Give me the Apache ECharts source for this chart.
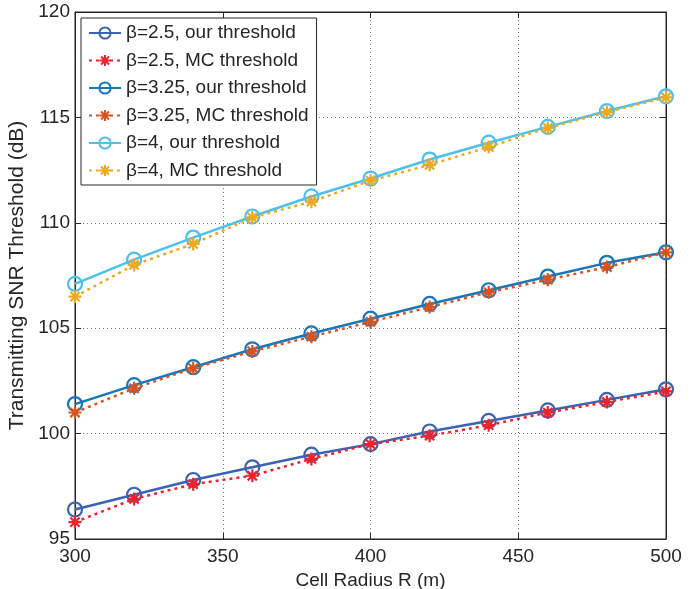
<!DOCTYPE html>
<html><head><meta charset="utf-8">
<script src="https://cdn.jsdelivr.net/npm/echarts@6/dist/echarts.min.js"></script>
<style>html,body{margin:0;padding:0;background:#fff}#c{width:696px;height:589px}</style>
</head><body><div id="c"></div>
<script>
const radius = [300, 320, 340, 360, 380, 400, 420, 440, 460, 480, 500];
const ours25 = [96.4, 97.1, 97.8, 98.4, 99.0, 99.5, 100.1, 100.6, 101.1, 101.6, 102.1];
const mc25   = [95.8, 96.9, 97.6, 98.0, 98.8, 99.5, 99.9, 100.4, 101.0, 101.5, 102.0];
const ours325 = [101.4, 102.3, 103.15, 104.0, 104.75, 105.45, 106.15, 106.8, 107.45, 108.1, 108.6];
const mc325   = [101.0, 102.15, 103.1, 103.9, 104.6, 105.3, 106.0, 106.7, 107.3, 107.9, 108.6];
const ours4 = [107.1, 108.25, 109.3, 110.3, 111.25, 112.1, 113.0, 113.8, 114.55, 115.3, 116.0];
const mc4   = [106.5, 108.0, 109.0, 110.25, 111.0, 112.0, 112.75, 113.6, 114.5, 115.25, 115.95];
const seriesNames = ['β=2.5, our threshold','β=2.5, MC threshold','β=3.25, our threshold','β=3.25, MC threshold','β=4, our threshold','β=4, MC threshold'];
const seriesValues = [ours25, mc25, ours325, mc325, ours4, mc4];
const seriesColors = ['#3a64b2', '#f0222c', '#1677bd', '#d9531e', '#4cc1ee', '#eda920'];
const yTicks = [95, 100, 105, 110, 115, 120];
const xTicks = [300, 350, 400, 450, 500];

const asterisk = 'path://M0,-10L0,10M-10,0L10,0M-7.07,-7.07L7.07,7.07M-7.07,7.07L7.07,-7.07';
const font = 'Liberation Sans, Arial, Helvetica, sans-serif';

const series = seriesNames.map((name, i) => {
  const mc = i % 2 === 1;
  const col = seriesColors[i];
  return {
    name, type: 'line', xAxisIndex: 0, yAxisIndex: 0,
    data: radius.map((r, k) => [r, seriesValues[i][k]]),
    symbol: mc ? asterisk : 'circle',
    symbolSize: mc ? 13 : 14,
    showAllSymbol: true,
    lineStyle: { color: col, width: 2.5, type: mc ? [3, 4] : 'solid' },
    itemStyle: { color: mc ? col : 'rgba(255,255,255,0)', borderColor: col, borderWidth: 2.2 },
    emphasis: { disabled: true },
    animation: false,
    z: 2 + i
  };
});

const chart = echarts.init(document.getElementById('c'), null, { renderer: 'canvas' });
const axisCommonX = { type: 'value', min: 300, max: 500, interval: 50 };
const axisCommonY = { type: 'value', min: 95, max: 120, interval: 5 };
chart.setOption({
  animation: false,
  backgroundColor: '#fff',
  textStyle: { fontFamily: font },
  grid: { left: 75, right: 30, top: 12, bottom: 50, containLabel: false, outerBoundsMode: 'none', show: true, borderColor: '#262626', borderWidth: 1, backgroundColor: 'transparent' },
  legend: {
    orient: 'vertical', left: 81, top: 18,
    backgroundColor: '#fff', borderColor: '#262626', borderWidth: 1,
    padding: [5.5, 8, 5, 7], itemGap: 8.5, itemWidth: 32, itemHeight: 14,
    textStyle: { fontSize: 19, color: '#262626', fontFamily: font },
    data: seriesNames
  },
  xAxis: [
    Object.assign({}, axisCommonX, {
      position: 'bottom',
      name: 'Cell Radius R (m)', nameLocation: 'middle', nameGap: 29,
      nameTextStyle: { fontSize: 19, color: '#262626' },
      axisLine: { show: true, lineStyle: { color: '#262626', width: 1 } },
      axisTick: { show: true, inside: true, length: 6, lineStyle: { color: '#262626' } },
      axisLabel: { fontSize: 19, color: '#262626', margin: 8, formatter: v => xTicks.includes(v) ? String(v) : '' },
      splitLine: { show: true, lineStyle: { color: '#777', type: [1, 3], width: 1 } }
    }),
    Object.assign({}, axisCommonX, {
      position: 'top',
      axisLine: { show: true, lineStyle: { color: '#262626', width: 1 } },
      axisTick: { show: true, inside: true, length: 6, lineStyle: { color: '#262626' } },
      axisLabel: { show: false }, splitLine: { show: false }
    })
  ],
  yAxis: [
    Object.assign({}, axisCommonY, {
      position: 'left',
      name: 'Transmitting SNR Threshold (dB)', nameLocation: 'middle', nameGap: 37,
      nameTextStyle: { fontSize: 21, color: '#262626' },
      axisLine: { show: true, lineStyle: { color: '#262626', width: 1 } },
      axisTick: { show: true, inside: true, length: 6, lineStyle: { color: '#262626' } },
      axisLabel: { fontSize: 19, color: '#262626', margin: 5, formatter: v => yTicks.includes(v) ? String(v) : '' },
      splitLine: { show: true, lineStyle: { color: '#777', type: [1, 3], width: 1 } }
    }),
    Object.assign({}, axisCommonY, {
      position: 'right',
      axisLine: { show: true, lineStyle: { color: '#262626', width: 1 } },
      axisTick: { show: true, inside: true, length: 6, lineStyle: { color: '#262626' } },
      axisLabel: { show: false }, splitLine: { show: false }
    })
  ],
  series
});
</script></body></html>
